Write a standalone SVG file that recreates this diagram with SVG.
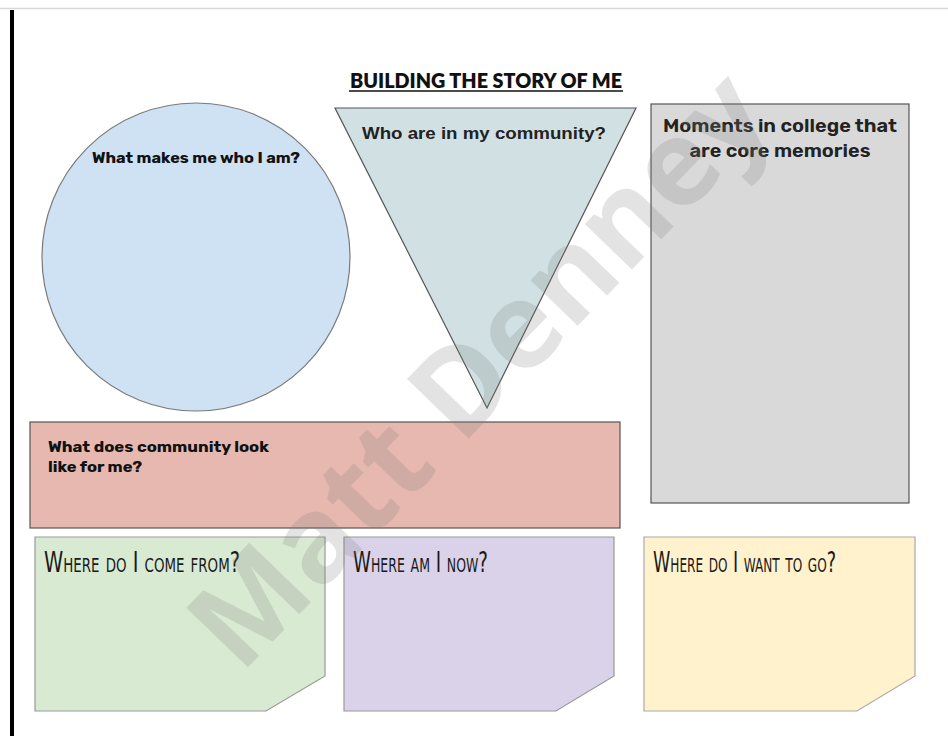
<svg xmlns="http://www.w3.org/2000/svg" width="948" height="736" viewBox="0 0 948 736">
<style>
.q{font-family:Rubik,"Open Sans","Liberation Sans",sans-serif;font-weight:700;fill:#111}
.m{font-family:Rubik,"Noto Sans","Liberation Sans",sans-serif;font-weight:600;fill:#222}
.h{font-family:"DejaVu Sans Condensed","Liberation Sans Narrow","Liberation Sans",sans-serif;font-variant:small-caps;fill:#1a1a1a;font-weight:400}
.sh{stroke-width:1.2}
</style>
<rect width="948" height="736" fill="#fff"/>
<line x1="0" y1="8.5" x2="948" y2="8.5" stroke="#d8d8d8" stroke-width="1.5"/>
<rect x="10" y="10" width="4" height="726" fill="#000"/>
<g id="title">
<text x="486" y="88" text-anchor="middle" font-family="Lato,'Liberation Sans',sans-serif" font-weight="800" font-size="20" textLength="272" lengthAdjust="spacingAndGlyphs" fill="#111">BUILDING THE STORY OF ME</text>
<line x1="349" y1="91" x2="623" y2="91" stroke="#111" stroke-width="1.5"/>
</g>
<g id="circle">
<circle cx="196" cy="257" r="154" fill="#cfe2f3" stroke="#7a7a7a" class="sh"/>
<text class="q" x="196" y="163" text-anchor="middle" font-size="14" textLength="208" lengthAdjust="spacingAndGlyphs">What makes me who I am?</text>
</g>
<g id="triangle">
<polygon points="335,108 636,108 487,408" fill="#d0e0e3" stroke="#555" class="sh"/>
<text x="484" y="139" text-anchor="middle" font-family="'Liberation Sans',Arial,sans-serif" font-weight="700" font-size="17" fill="#222" textLength="244" lengthAdjust="spacingAndGlyphs">Who are in my community?</text>
</g>
<g id="moments">
<rect x="651" y="104" width="258" height="399" fill="#d9d9d9" stroke="#555" class="sh"/>
<text class="m" x="780" y="132" text-anchor="middle" font-size="18" textLength="234" lengthAdjust="spacingAndGlyphs">Moments in college that</text>
<text class="m" x="780" y="157" text-anchor="middle" font-size="18" textLength="181" lengthAdjust="spacingAndGlyphs">are core memories</text>
</g>
<g id="community">
<rect x="30" y="422" width="590" height="106" fill="#e6b8af" stroke="#555" class="sh"/>
<text class="q" x="48" y="452" font-size="15" textLength="221" lengthAdjust="spacingAndGlyphs">What does community look</text>
<text class="q" x="48" y="472" font-size="15" textLength="94" lengthAdjust="spacingAndGlyphs">like for me?</text>
</g>
<g id="come-from">
<polygon points="35,537 325,537 325,676 266,711 35,711" fill="#d9ead3" stroke="#999" class="sh"/>
<text class="h" x="44" y="572" font-size="29" textLength="196" lengthAdjust="spacingAndGlyphs">Where do I come from?</text>
</g>
<g id="now">
<polygon points="344,537 614,537 614,676 556,711 344,711" fill="#d9d2e9" stroke="#999" class="sh"/>
<text class="h" x="353" y="572" font-size="29" textLength="135" lengthAdjust="spacingAndGlyphs">Where am I now?</text>
</g>
<g id="want-to-go">
<polygon points="644,537 915,537 915,676 857,711 644,711" fill="#fff2cc" stroke="#aaa" class="sh"/>
<text class="h" x="653" y="572" font-size="29" textLength="183" lengthAdjust="spacingAndGlyphs">Where do I want to go?</text>
</g>
<g id="connectors"></g>
<g id="watermark">
<text x="0" y="0" transform="translate(508,398) rotate(-46)" text-anchor="middle" font-family="'Open Sans',Lato,sans-serif" font-weight="700" font-size="120" fill="#808080" fill-opacity="0.22" textLength="770" lengthAdjust="spacingAndGlyphs">Matt Denney</text>
</g>
</svg>
